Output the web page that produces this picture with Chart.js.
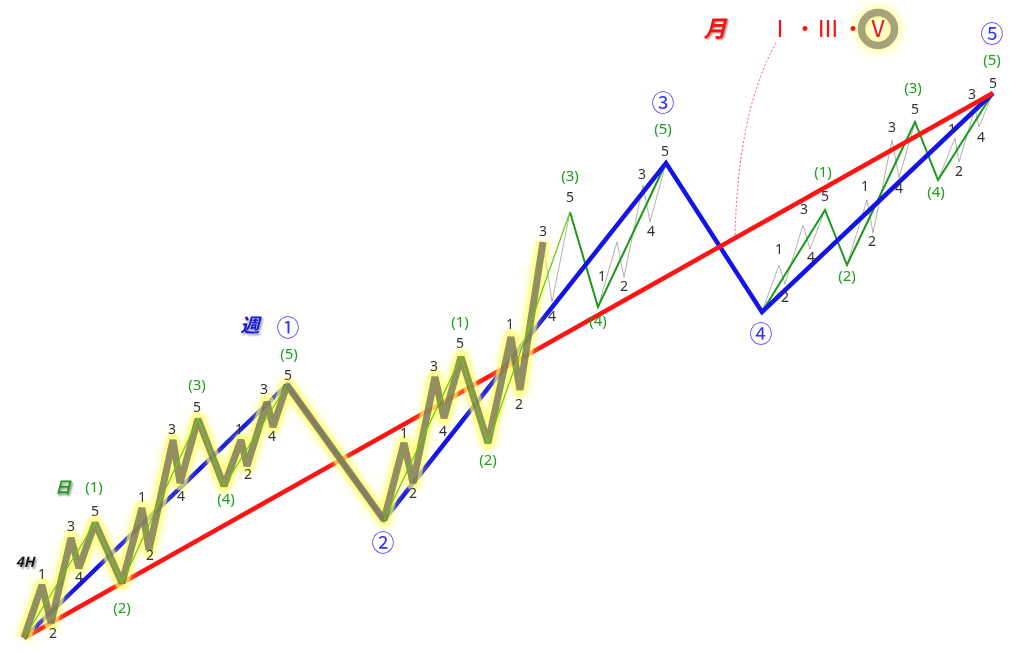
<!DOCTYPE html>
<html lang="ja">
<head>
<meta charset="UTF-8">
<title>Elliott Wave</title>
<script src="https://cdn.jsdelivr.net/npm/chart.js@4.4.1/dist/chart.umd.min.js"></script>
<style>
  html, body { margin: 0; padding: 0; background: #fff; }
  #wrap { width: 1024px; height: 652px; }
</style>
</head>
<body>
<div id="wrap"><canvas id="myChart"></canvas></div>
<script>
// month trend (red)
const redX = [24, 993];
const redY = [638, 93];
// weekly waves (blue) : start, 1, 2, 3, 4, 5
const weekX = [24, 287, 384, 666, 762, 993];
const weekY = [638, 385, 520, 163, 312, 93];
// daily waves inside the highlighted part (lime)
const dayLimeX = [24, 95, 122, 198, 224, 287, null, 384, 461, 488, 570];
const dayLimeY = [638, 523, 583, 419, 486, 385, null, 520, 357, 443, 212];
// daily waves (dark green)
const dayX = [570, 598, 666, null, 762, 825, 847, 915, 938, 993];
const dayY = [212, 307, 163, null, 312, 210, 265, 122, 180, 93];
// 4H waves, highlighted
const h4X = [24, 42, 51, 71, 79, 95, 122, 142, 149, 173, 180, 198, 224, 241, 247, 267, 273, 287,
             384, 404, 413, 435, 444, 461, 488, 511, 520, 543];
const h4Y = [638, 585, 623, 538, 568, 523, 583, 508, 550, 440, 483, 419, 486, 440, 466, 402, 427, 385,
             520, 443, 483, 377, 418, 357, 443, 337, 390, 242];
// 4H waves, thin
const h4ThinX = [543, 552, 570, null, 598, 617, 624, 643, 650, 666, null,
                 762, 779, 785, 803, 810, 825, null, 847, 867, 873, 892, 899, 915, null,
                 938, 955, 959, 975, 979, 993];
const h4ThinY = [242, 302, 212, null, 307, 242, 277, 185, 222, 163, null,
                 312, 265, 284, 225, 249, 210, null, 265, 200, 233, 140, 178, 122, null,
                 180, 138, 162, 108, 127, 93];

// labels
const subText = ['1','2','3','4','5','1','2','3','4','5','1','2','3','4','5',
                 '1','2','3','4','5','1','2','3','4','5','1','2','3','4','5',
                 '1','2','3','4','5','1','2','3','4','5','1','2','3','4','5'];
const subX = [42, 53, 71, 79, 95, 142, 150, 172, 181, 197, 239, 248, 264, 272, 288,
              404, 413, 434, 443, 460, 510, 519, 543, 552, 570, 602, 624, 642, 651, 665,
              779, 785, 804, 811, 825, 865, 872, 892, 899, 915, 952, 959, 972, 981, 993];
const subY = [575, 634, 527, 578, 512, 498, 556, 430, 497, 408, 430, 475, 390, 437, 376,
              434, 494, 367, 432, 344, 325, 405, 232, 317, 198, 277, 287, 175, 232, 152,
              250, 298, 210, 258, 197, 187, 242, 128, 189, 110, 130, 172, 95, 138, 84];
const dayText = ['(1)','(2)','(3)','(4)','(5)','(1)','(2)','(3)','(4)','(5)','(1)','(2)','(3)','(4)','(5)'];
const dayLX = [94, 122, 197, 226, 289, 460, 488, 570, 598, 663, 823, 847, 913, 936, 992];
const dayLY = [488, 609, 386, 500, 355, 323, 461, 177, 322, 130, 173, 277, 89, 193, 61];
const weekText = ['①','②','③','④','⑤'];
const weekLX = [288, 383, 663, 761, 992];
const weekLY = [327, 542, 102, 333, 33];
const monthText = ['Ⅰ', '・', 'Ⅲ', '・', 'Ⅴ'];
const monthLX = [780, 805, 828, 853, 878];
const monthLY = [28, 28, 28, 28, 28];
const titleText = ['4H', '日', '週', '月'];
const titleX = [25, 63, 250, 715];
const titleY = [562, 487, 325, 28];
const arcX = [776, 738, 735];
const arcY = [43, 110, 237];

function pts(xs, ys) {
    return xs.map((x, i) => ({ x: x, y: ys[i] }));
}

const glowPlugin = {
    id: 'glow',
    beforeDatasetDraw(chart, args) {
        const ds = chart.data.datasets[args.index];
        if (ds.glow) {
            chart.ctx.save();
            chart.ctx.shadowColor = ds.glow;
            chart.ctx.shadowBlur = 8;
        }
    },
    afterDatasetDraw(chart, args) {
        if (chart.data.datasets[args.index].glow) chart.ctx.restore();
    }
};

const labelPlugin = {
    id: 'labels',
    afterDatasetsDraw(chart) {
        const ctx = chart.ctx;
        const sx = chart.scales.x, sy = chart.scales.y;
        const px = v => sx.getPixelForValue(v);
        const py = v => sy.getPixelForValue(v);
        ctx.save();
        ctx.textAlign = 'center';
        ctx.textBaseline = 'middle';

        // dashed arc from the month label
        ctx.beginPath();
        ctx.setLineDash([2, 2]);
        ctx.strokeStyle = '#ff5050';
        ctx.lineWidth = 1;
        ctx.moveTo(px(arcX[0]), py(arcY[0]));
        ctx.quadraticCurveTo(px(arcX[1]), py(arcY[1]), px(arcX[2]), py(arcY[2]));
        ctx.stroke();
        ctx.setLineDash([]);

        ctx.font = '14px "Noto Sans", sans-serif';
        ctx.fillStyle = '#333';
        subText.forEach((t, i) => ctx.fillText(t, px(subX[i]), py(subY[i])));

        ctx.font = '15px "Noto Sans", sans-serif';
        ctx.fillStyle = '#1e9e1e';
        dayText.forEach((t, i) => ctx.fillText(t, px(dayLX[i]), py(dayLY[i])));

        ctx.font = '23px "Noto Sans CJK JP", sans-serif';
        ctx.fillStyle = '#3333ff';
        weekText.forEach((t, i) => ctx.fillText(t, px(weekLX[i]), py(weekLY[i])));

        // ring around V
        const last = monthText.length - 1;
        ctx.save();
        ctx.shadowColor = '#ffff40';
        ctx.shadowBlur = 12;
        ctx.beginPath();
        ctx.arc(px(monthLX[last]), py(monthLY[last]) + 1, 16.5, 0, Math.PI * 2);
        ctx.strokeStyle = '#a6a27c';
        ctx.lineWidth = 7.5;
        ctx.stroke();
        ctx.restore();

        ctx.font = '23px "Noto Sans CJK JP", sans-serif';
        ctx.fillStyle = '#ff1010';
        monthText.forEach((t, i) => ctx.fillText(t, px(monthLX[i]), py(monthLY[i])));

        const tColors = ['#111', '#1e9e1e', '#1515e0', '#ff1010'];
        const tSizes = [14, 16, 19, 23];
        ctx.shadowColor = 'rgba(0,0,0,0.4)';
        ctx.shadowOffsetX = 1.5;
        ctx.shadowOffsetY = 1.5;
        ctx.shadowBlur = 2;
        titleText.forEach((t, i) => {
            ctx.font = 'italic bold ' + tSizes[i] + 'px "Noto Sans CJK JP", sans-serif';
            ctx.fillStyle = tColors[i];
            ctx.fillText(t, px(titleX[i]), py(titleY[i]));
        });
        ctx.restore();
    }
};

const ctx = document.getElementById('myChart').getContext('2d');
new Chart(ctx, {
    type: 'line',
    data: {
        datasets: [
            { data: pts(dayLimeX, dayLimeY), borderColor: '#66cc00', borderWidth: 1.2, order: 1 },
            { data: pts(h4X, h4Y), borderColor: 'rgba(95,92,80,0.68)', borderWidth: 7,
              borderJoinStyle: 'bevel', order: 2 },
            { data: pts(h4X, h4Y), borderColor: 'rgba(255,255,110,0.55)', borderWidth: 14,
              borderJoinStyle: 'round', glow: '#ffff50', order: 3 },
            { data: pts(redX, redY), borderColor: '#ff1414', borderWidth: 4.5, order: 4 },
            { data: pts(weekX, weekY), borderColor: '#1414e6', borderWidth: 4.5, order: 5 },
            { data: pts(dayX, dayY), borderColor: '#1a9a1a', borderWidth: 2, order: 6 },
            { data: pts(h4ThinX, h4ThinY), borderColor: '#b0b0b0', borderWidth: 1, order: 7 }
        ]
    },
    options: {
        responsive: true,
        maintainAspectRatio: false,
        animation: false,
        layout: { padding: 0 },
        elements: { point: { radius: 0 }, line: { tension: 0 } },
        spanGaps: false,
        plugins: { legend: { display: false }, tooltip: { enabled: false } },
        scales: {
            x: { type: 'linear', min: 0, max: 1024, display: false },
            y: { type: 'linear', min: 0, max: 652, reverse: true, display: false }
        }
    },
    plugins: [glowPlugin, labelPlugin]
});
</script>
</body>
</html>
